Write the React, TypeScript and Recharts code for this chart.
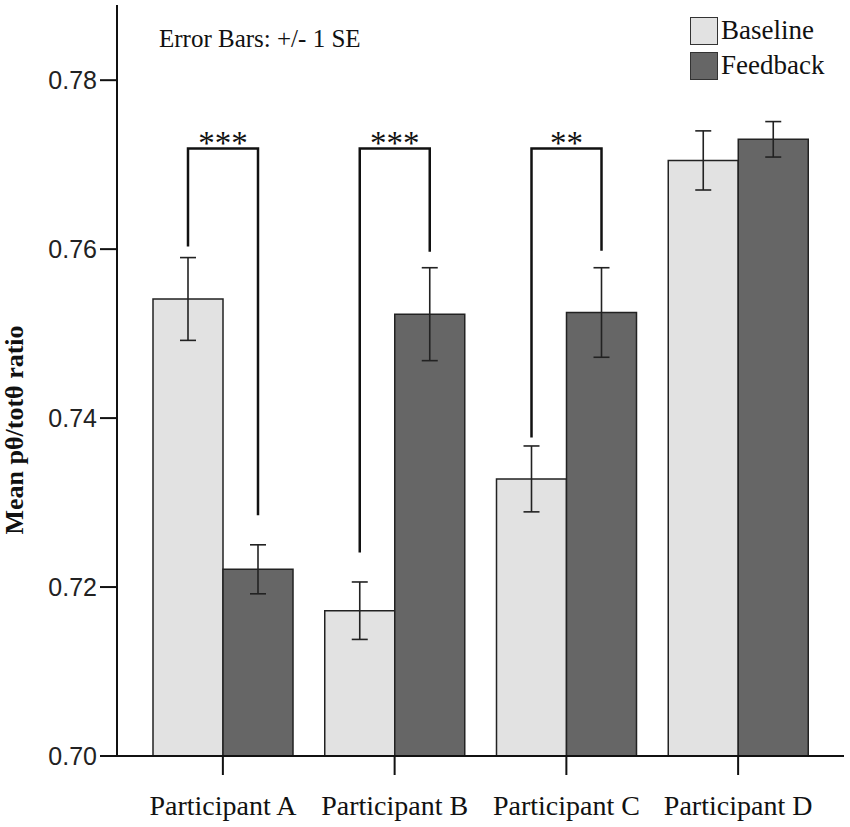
import React from 'react';
import {
  BarChart,
  Bar,
  XAxis,
  YAxis,
  ErrorBar,
  Legend,
  Rectangle,
} from 'recharts';

// Means and standard errors
const categories = ['Participant A', 'Participant B', 'Participant C', 'Participant D'];
const baseline = [0.7541, 0.7172, 0.7328, 0.7705];
const baselineSE = [0.0049, 0.0034, 0.0039, 0.0035];
const feedback = [0.7221, 0.7523, 0.7525, 0.773];
const feedbackSE = [0.0029, 0.0055, 0.0053, 0.0021];

// Significance brackets (null = no bracket)
const sigMarks = ['***', '***', '**', ''];
const bracketTop = [0.7719, 0.7719, 0.7719, null];
const bracketBaseEnd = [0.7603, 0.7241, 0.7377, null];
const bracketFeedEnd = [0.7285, 0.7597, 0.7598, null];

const yTicks = [0.7, 0.72, 0.74, 0.76, 0.78];
const Y_MIN = 0.7;
const Y_MAX = 0.7889;

const BASE_FILL = '#e2e2e2';
const FEED_FILL = '#666666';
const SERIF = '"Liberation Serif", "Times New Roman", serif';
const SANS = '"Liberation Sans", Arial, sans-serif';

const data = categories.map((name, i) => ({
  name,
  baseline: baseline[i],
  baselineSE: baselineSE[i],
  feedback: feedback[i],
  feedbackSE: feedbackSE[i],
  sig: sigMarks[i],
  top: bracketTop[i],
  baseEnd: bracketBaseEnd[i],
  feedEnd: bracketFeedEnd[i],
}));

// Feedback bar + the significance bracket spanning both bars of the group
function FeedbackShape(props: any) {
  const { x, y, width, height, payload } = props;
  const bottom = y + height;
  const pxPerUnit = height / (payload.feedback - Y_MIN);
  const yOf = (v: number) => bottom - (v - Y_MIN) * pxPerUnit;
  const xl = x - width / 2;
  const xr = x + width / 2;
  return (
    <g>
      <Rectangle x={x} y={y} width={width} height={height} fill={FEED_FILL} stroke="#222" strokeWidth={1.5} />
      {payload.sig && (
        <g>
          <path
            d={`M${xl},${yOf(payload.baseEnd)} L${xl},${yOf(payload.top)} L${xr},${yOf(payload.top)} L${xr},${yOf(payload.feedEnd)}`}
            fill="none"
            stroke="#111"
            strokeWidth={2.5}
          />
          <text
            x={x}
            y={yOf(payload.top) + 5}
            textAnchor="middle"
            fontFamily={SERIF}
            fontSize={33}
            fill="#111"
          >
            {payload.sig}
          </text>
        </g>
      )}
    </g>
  );
}

function LegendBox() {
  const items = [
    { label: 'Baseline', fill: BASE_FILL },
    { label: 'Feedback', fill: FEED_FILL },
  ];
  return (
    <div style={{ fontFamily: SERIF, fontSize: 27, color: '#111', lineHeight: '35px' }}>
      {items.map((it) => (
        <div key={it.label} style={{ display: 'flex', alignItems: 'center' }}>
          <span
            style={{
              display: 'inline-block',
              width: 26,
              height: 26,
              background: it.fill,
              border: '1.5px solid #333',
              marginRight: 3,
            }}
          />
          <span>{it.label}</span>
        </div>
      ))}
    </div>
  );
}

export default function App() {
  return (
    <div style={{ position: 'absolute', left: 0, top: 0, width: 850, height: 827, background: '#fff' }}>
      <BarChart
        width={850}
        height={827}
        data={data}
        margin={{ top: 5, right: 6, left: 0, bottom: 0 }}
        barSize={70}
        barGap={0}
      >
        <XAxis
          dataKey="name"
          height={71}
          padding={{ left: 20, right: 20 }}
          axisLine={{ stroke: '#111', strokeWidth: 2 }}
          tickLine={{ stroke: '#111', strokeWidth: 2 }}
          tickSize={19}
          tickMargin={20}
          tick={{ fill: '#111', fontFamily: SERIF, fontSize: 28 }}
          interval={0}
        />
        <XAxis xAxisId="top" orientation="top" dataKey="name" height={0} tick={false} tickLine={false}
          axisLine={{ stroke: '#777', strokeWidth: 2 }} />
        <YAxis
          width={117}
          domain={[Y_MIN, Y_MAX]}
          ticks={yTicks}
          allowDataOverflow
          tickFormatter={(v: number) => v.toFixed(2)}
          axisLine={{ stroke: '#111', strokeWidth: 2 }}
          tickLine={{ stroke: '#111', strokeWidth: 2 }}
          tickSize={17}
          tickMargin={3}
          tick={{ fill: '#222', fontFamily: SANS, fontSize: 25 }}
        />
        <YAxis yAxisId="right" orientation="right" width={0} tick={false} tickLine={false}
          axisLine={{ stroke: '#777', strokeWidth: 2 }} />
        <Legend
          layout="vertical"
          align="center"
          verticalAlign="middle"
          content={() => <LegendBox />}
          wrapperStyle={{ left: 690, top: 13, width: 'auto', height: 'auto' }}
        />
        <Bar dataKey="baseline" name="Baseline" fill={BASE_FILL} stroke="#222" strokeWidth={1.5} isAnimationActive={false}>
          <ErrorBar dataKey="baselineSE" direction="y" width={8} stroke="#222" strokeWidth={1.6} />
        </Bar>
        <Bar dataKey="feedback" name="Feedback" fill={FEED_FILL} shape={FeedbackShape} isAnimationActive={false}>
          <ErrorBar dataKey="feedbackSE" direction="y" width={8} stroke="#222" strokeWidth={1.6} />
        </Bar>
        <text x={159} y={47} fontFamily={SERIF} fontSize={25} fill="#111">
          Error Bars: +/- 1 SE
        </text>
        <text
          x={14}
          y={430}
          transform="rotate(-90, 14, 430)"
          textAnchor="middle"
          dominantBaseline="central"
          fontFamily={SERIF}
          fontWeight="bold"
          fontSize={26}
          fill="#111"
        >
          Mean pθ/totθ ratio
        </text>
      </BarChart>
    </div>
  );
}
